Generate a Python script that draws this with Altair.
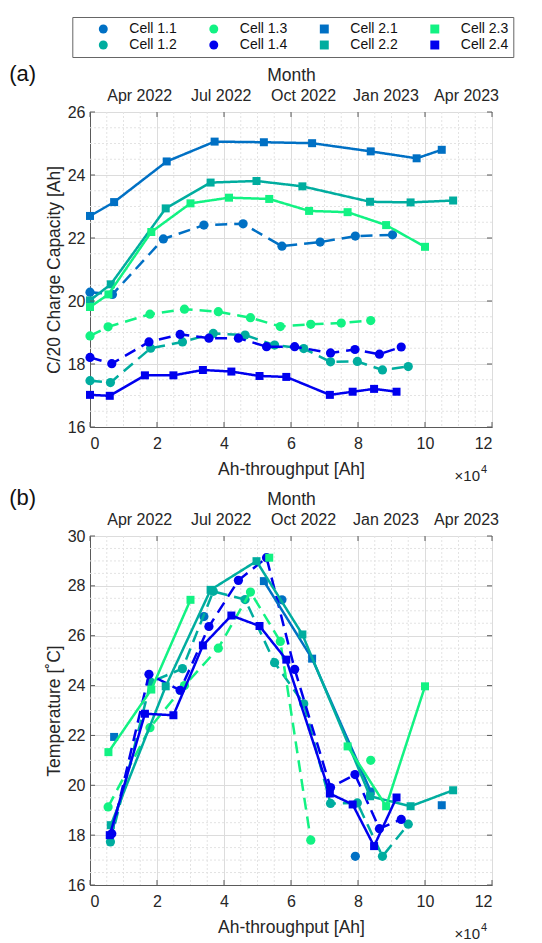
import altair as alt
import pandas as pd
import numpy as np

nan = float("nan")
FONT = "Liberation Sans"

cells = ["Cell 1.1", "Cell 1.2", "Cell 1.3", "Cell 1.4",
         "Cell 2.1", "Cell 2.2", "Cell 2.3", "Cell 2.4"]
cell_colors = {"Cell 1.1": "#0070C4", "Cell 1.2": "#00AD9F",
               "Cell 1.3": "#12F283", "Cell 1.4": "#0000EE",
               "Cell 2.1": "#0070C4", "Cell 2.2": "#00AD9F",
               "Cell 2.3": "#12F283", "Cell 2.4": "#0000EE"}
cell_shapes = {c: ("circle" if c.startswith("Cell 1") else "square") for c in cells}

# Ah-throughput (x 10^4 Ah)
c11_x = [0, 0.67, 2.19, 3.40, 4.57, 5.73, 6.87, 7.92, 9.03]
c12_x = [0, 0.61, 1.81, 2.76, 3.68, 4.63, 5.51, 6.38, 7.18, 7.98, 8.73, 9.50]
c13_x = [0, 0.54, 1.79, 2.82, 3.83, 4.79, 5.68, 6.59, 7.50, 8.38]
c14_x = [0, 0.65, 1.76, 2.69, 3.55, 4.43, 5.27, 6.11, 7.18, 7.91, 8.64, 9.29]
c21_x = [0, 0.72, 2.29, 3.72, 5.19, 6.63, 8.38, 9.75, 10.50]
c22_x = [0, 0.62, 2.26, 3.60, 4.97, 6.34, 8.36, 9.57, 10.84]
c23_x = [0, 0.55, 1.83, 3.00, 4.15, 5.35, 6.54, 7.69, 8.84, 10.0]
c24_x = [0, 0.59, 1.64, 2.49, 3.37, 4.22, 5.06, 5.86, 7.16, 7.84, 8.48, 9.15]

# C/20 charge capacity [Ah]
c11_cap = [20.28, 20.21, 21.97, 22.41, 22.45, 21.74, 21.87, 22.06, 22.10]
c12_cap = [17.47, 17.41, 18.50, 18.70, 18.97, 18.92, 18.60, 18.49, 18.07, 18.08, 17.81, 17.92]
c13_cap = [18.89, 19.18, 19.58, 19.74, 19.66, 19.47, 19.19, 19.26, 19.30, 19.38]
c14_cap = [18.21, 18.01, 18.70, 18.94, 18.82, 18.82, 18.55, 18.55, 18.35, 18.46, 18.31, 18.54]
c21_cap = [22.70, 23.14, 24.43, 25.06, 25.04, 25.01, 24.75, 24.53, 24.80]
c22_cap = [20.02, 20.53, 22.94, 23.76, 23.81, 23.64, 23.15, 23.13, 23.19]
c23_cap = [19.81, 20.21, 22.19, 23.10, 23.28, 23.24, 22.86, 22.82, 22.41, 21.72]
c24_cap = [17.02, 16.99, 17.64, 17.64, 17.81, 17.76, 17.62, 17.59, 17.02, 17.12, 17.21, 17.12]

# Temperature [deg C]
c11_T = [nan, nan, nan, 26.77, nan, 27.44, nan, 17.15, nan]
c12_T = [nan, 17.73, 24.14, 24.68, 27.78, 27.45, 24.92, 23.27, 19.27, 19.29, 17.15, 18.44]
c13_T = [nan, 19.13, 22.31, 24.00, 25.50, 27.75, 25.77, 17.80, nan, 21.00]
c14_T = [nan, 18.06, 24.45, 23.81, 26.37, 28.22, 29.13, 24.65, 19.91, 20.43, 18.26, 18.63]
c21_T = [nan, 21.94, nan, nan, 28.19, 25.08, 19.75, nan, 19.20]
c22_T = [nan, 18.40, 23.97, 27.84, 28.99, 26.05, 19.56, 19.16, 19.80]
c23_T = [nan, 21.33, 23.84, 27.44, nan, 29.13, nan, 21.56, 19.16, 23.97]
c24_T = [nan, 18.00, 22.87, 22.81, 25.61, 26.81, 26.39, 25.04, 19.67, 19.23, 17.56, 19.51]

xs = [c11_x, c12_x, c13_x, c14_x, c21_x, c22_x, c23_x, c24_x]
caps = [c11_cap, c12_cap, c13_cap, c14_cap, c21_cap, c22_cap, c23_cap, c24_cap]
temps = [c11_T, c12_T, c13_T, c14_T, c21_T, c22_T, c23_T, c24_T]

x_ticks = [0, 2, 4, 6, 8, 10, 12]
cap_ticks = [16, 18, 20, 22, 24, 26]
temp_ticks = [16, 18, 20, 22, 24, 26, 28, 30]
month_ticks = ["2022-04-01", "2022-07-01", "2022-10-01", "2023-01-01", "2023-04-01"]


def build_df(values):
    rows = []
    for cell, xv, yv in zip(cells, xs, values):
        seg = 0
        prev_ok = False
        for a, b in zip(xv, yv):
            ok = not np.isnan(b)
            if ok and not prev_ok:
                seg += 1
            if ok:
                rows.append({"cell": cell, "x": a, "y": b, "seg": seg})
            prev_ok = ok
    return pd.DataFrame(rows)


W = 402
AX = dict(labelFont=FONT, labelFontSize=16, labelColor="#262626",
          titleFont=FONT, titleFontSize=17.5, titleFontWeight="normal",
          titleColor="#262626", ticks=False, tickSize=0,
          domainColor="#5a5a5a", gridColor="#dcdcdc", gridWidth=1)

legend = alt.Legend(title=None, orient="none", legendX=-17.7, legendY=-95,
                    columns=4, symbolSize=80, labelFont=FONT, labelFontSize=14,
                    labelColor="#111", strokeColor="#666", fillColor="white",
                    padding=5, columnPadding=10.5, rowPadding=2, labelOffset=19,
                    symbolOffset=19)


def panel(values, ydom, yticks, ytitle, H, tag):
    df = build_df(values)
    xsc = alt.Scale(domain=[0, 12], nice=False)
    ysc = alt.Scale(domain=ydom, nice=False, zero=False)
    xax = alt.Axis(values=x_ticks, format="d", title="Ah-throughput [Ah]", grid=True,
                   labelPadding=8, titlePadding=9, **AX)
    yax = alt.Axis(values=yticks, format="d", title=ytitle, grid=True,
                   labelPadding=5, titlePadding=4, **AX)

    def X(f):
        return alt.X(f, scale=xsc, axis=xax)

    def Y(f):
        return alt.Y(f, scale=ysc, axis=yax)

    minor_x = pd.DataFrame({"v": [v for v in np.arange(0, 12.01, 0.5) if v % 2 != 0]})
    minor_y = pd.DataFrame({"v": [v for v in np.arange(ydom[0], ydom[1] + 0.01, 0.5) if v % 2 != 0]})
    layers = [
        alt.Chart(minor_x).mark_rule(color="#e3e3e3", strokeDash=[2, 2], strokeWidth=1).encode(x=X("v:Q")),
        alt.Chart(minor_y).mark_rule(color="#e3e3e3", strokeDash=[2, 2], strokeWidth=1).encode(y=Y("v:Q")),
    ]
    col = alt.Color("cell:N", scale=alt.Scale(domain=cells,
                    range=[cell_colors[c] for c in cells]), legend=legend)
    shp = alt.Shape("cell:N", scale=alt.Scale(domain=cells,
                    range=[cell_shapes[c] for c in cells]), legend=legend)
    for c in cells:
        sub = df[df.cell == c]
        dash = [12, 7] if c.startswith("Cell 1") else [1, 0]
        layers.append(alt.Chart(sub).mark_line(strokeWidth=2.5, strokeDash=dash).encode(
            x=X("x:Q"), y=Y("y:Q"), detail="seg:N", color=alt.value(cell_colors[c])))
        size = 85 if c.startswith("Cell 1") else 64
        layers.append(alt.Chart(sub).mark_point(filled=True, opacity=1, size=size).encode(
            x=X("x:Q"), y=Y("y:Q"), color=col, shape=shp))
    xt = pd.DataFrame({"v": x_ticks})
    yt = pd.DataFrame({"v": yticks})
    tick_col = "#5a5a5a"
    layers += [
        alt.Chart(xt).mark_rule(color=tick_col).encode(x=X("v:Q"), y=alt.value(H), y2=alt.value(H - 5)),
        alt.Chart(xt).mark_rule(color=tick_col).encode(x=X("v:Q"), y=alt.value(0), y2=alt.value(5)),
        alt.Chart(yt).mark_rule(color=tick_col).encode(y=Y("v:Q"), x=alt.value(0), x2=alt.value(5)),
        alt.Chart(yt).mark_rule(color=tick_col).encode(y=Y("v:Q"), x=alt.value(W - 5), x2=alt.value(W)),
        alt.Chart(pd.DataFrame({"t": ["×10"]})).mark_text(
            align="right", baseline="alphabetic", font=FONT, fontSize=15, color="#262626").encode(
            x=alt.value(W - 12), y=alt.value(H + 54), text="t:N"),
        alt.Chart(pd.DataFrame({"t": ["4"]})).mark_text(
            align="left", baseline="alphabetic", font=FONT, fontSize=11, color="#262626").encode(
            x=alt.value(W - 11), y=alt.value(H + 46), text="t:N"),
    ]
    inner = alt.layer(*layers)
    top = alt.Chart(pd.DataFrame({"m": month_ticks})).mark_point(opacity=0).encode(
        x=alt.X("m:T", scale=alt.Scale(type="utc", nice=False, domain=[
            alt.DateTime(year=2022, month=2, date=5, utc=True),
            alt.DateTime(year=2023, month=4, date=30, utc=True)]),
            axis=alt.Axis(orient="top", title="Month", format="%b %Y", grid=False,
                          domain=False, labelPadding=9, titlePadding=3,
                          values=[alt.DateTime(year=int(m[:4]), month=int(m[5:7]), date=1, utc=True)
                                  for m in month_ticks], **AX)),
        y=alt.value(0))
    return alt.layer(inner, top).resolve_scale(x="independent").properties(
        width=W, height=H,
        title=alt.TitleParams(tag, anchor="start", font=FONT, fontSize=22, fontWeight="normal",
                              color="#111", dx=-36, dy=24))


pa = panel(caps, [16, 26], cap_ticks, "C/20 Charge Capacity [Ah]", 315, "(a)")
pb = panel(temps, [16, 30], temp_ticks, "Temperature [˚C]", 349, "(b)")

chart = alt.vconcat(pa, pb, spacing=1).properties(
    padding={"left": 0, "top": 8, "right": 5, "bottom": 5}
).configure_view(stroke="#5a5a5a", strokeWidth=1)

chart.save("out.html", embed_options={"renderer": "svg", "actions": False})
